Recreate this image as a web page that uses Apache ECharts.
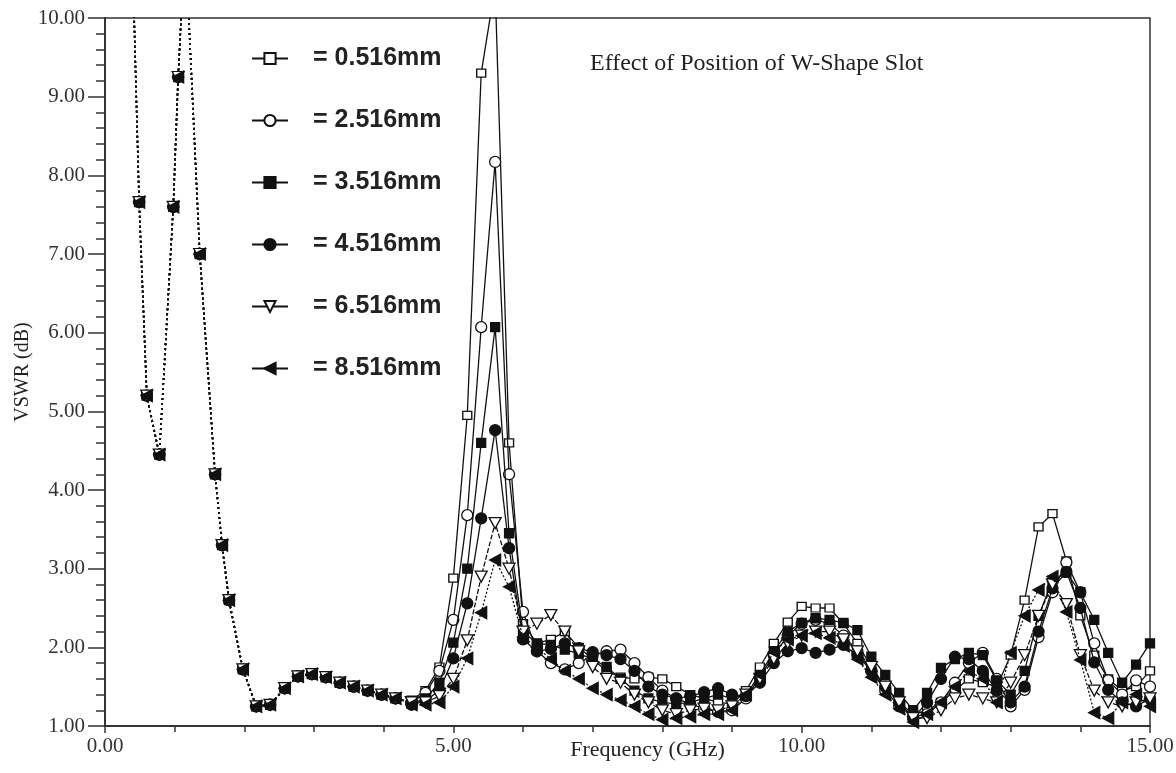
<!DOCTYPE html>
<html><head><meta charset="utf-8">
<script src="https://cdn.jsdelivr.net/npm/echarts@6/dist/echarts.min.js"></script>
<style>html,body{margin:0;padding:0;background:#fff;overflow:hidden}#c{width:1176px;height:773px}</style>
</head><body><div id="c"></div><script>
const chartTitle = 'Effect of Position of W-Shape Slot';
const xAxisName = 'Frequency (GHz)';
const yAxisName = 'VSWR (dB)';
const seriesNames = ['= 0.516mm', '= 2.516mm', '= 3.516mm', '= 4.516mm', '= 6.516mm', '= 8.516mm'];

const lowFreq = [0.40, 0.49, 0.60, 0.78, 0.98, 1.05, 1.15, 1.36, 1.58, 1.68, 1.78, 1.98, 2.17, 2.37, 2.58, 2.77, 2.97, 3.17, 3.37, 3.57, 3.77, 3.97, 4.17, 4.40];
const lowVswr = [10.6, 7.66, 5.20, 4.45, 7.60, 9.25, 11.0, 7.00, 4.20, 3.30, 2.60, 1.72, 1.25, 1.27, 1.48, 1.63, 1.66, 1.62, 1.55, 1.50, 1.45, 1.40, 1.35, 1.30];

const highFreq = [4.4, 4.6, 4.8, 5.0, 5.2, 5.4, 5.6, 5.8, 6.0, 6.2, 6.4, 6.6, 6.8, 7.0, 7.2, 7.4, 7.6, 7.8, 8.0, 8.2, 8.4, 8.6, 8.8, 9.0, 9.2, 9.4, 9.6, 9.8, 10.0, 10.2, 10.4, 10.6, 10.8, 11.0, 11.2, 11.4, 11.6, 11.8, 12.0, 12.2, 12.4, 12.6, 12.8, 13.0, 13.2, 13.4, 13.6, 13.8, 14.0, 14.2, 14.4, 14.6, 14.8, 15.0];
const vswr0516 = [1.33, 1.45, 1.75, 2.88, 4.95, 9.30, 10.4, 4.60, 2.30, 2.05, 2.10, 2.20, 2.00, 1.85, 1.70, 1.62, 1.60, 1.62, 1.60, 1.50, 1.40, 1.35, 1.30, 1.28, 1.45, 1.75, 2.05, 2.32, 2.52, 2.50, 2.50, 2.30, 2.05, 1.75, 1.50, 1.30, 1.15, 1.20, 1.30, 1.45, 1.60, 1.55, 1.50, 1.90, 2.60, 3.53, 3.70, 3.10, 2.40, 1.90, 1.60, 1.45, 1.50, 1.70];
const vswr2516 = [1.30, 1.42, 1.70, 2.35, 3.68, 6.07, 8.17, 4.20, 2.45, 1.95, 1.80, 1.72, 1.80, 1.90, 1.95, 1.97, 1.80, 1.62, 1.45, 1.35, 1.28, 1.22, 1.18, 1.20, 1.35, 1.62, 1.90, 2.15, 2.30, 2.35, 2.30, 2.15, 1.95, 1.70, 1.45, 1.25, 1.12, 1.15, 1.30, 1.55, 1.80, 1.93, 1.60, 1.25, 1.46, 2.13, 2.70, 3.08, 2.70, 2.05, 1.58, 1.40, 1.58, 1.50];
const vswr3516 = [1.28, 1.35, 1.55, 2.06, 3.00, 4.60, 6.07, 3.45, 2.20, 2.05, 2.03, 1.97, 1.92, 1.85, 1.75, 1.60, 1.45, 1.35, 1.30, 1.28, 1.30, 1.35, 1.40, 1.35, 1.40, 1.65, 1.95, 2.20, 2.31, 2.37, 2.35, 2.31, 2.22, 1.88, 1.65, 1.42, 1.20, 1.42, 1.74, 1.85, 1.93, 1.90, 1.58, 1.40, 1.70, 2.40, 2.85, 2.95, 2.70, 2.35, 1.93, 1.55, 1.78, 2.05];
const vswr4516 = [1.27, 1.32, 1.45, 1.86, 2.56, 3.64, 4.76, 3.26, 2.10, 1.95, 1.98, 2.05, 1.99, 1.94, 1.90, 1.85, 1.70, 1.50, 1.40, 1.35, 1.38, 1.43, 1.48, 1.40, 1.38, 1.55, 1.80, 1.95, 1.99, 1.93, 1.97, 2.03, 1.90, 1.70, 1.50, 1.30, 1.10, 1.30, 1.60, 1.88, 1.85, 1.70, 1.45, 1.30, 1.50, 2.20, 2.75, 2.96, 2.50, 1.81, 1.46, 1.30, 1.25, 1.35];
const vswr6516 = [1.30, 1.30, 1.38, 1.60, 2.09, 2.90, 3.58, 3.00, 2.20, 2.30, 2.41, 2.20, 1.95, 1.75, 1.60, 1.55, 1.40, 1.30, 1.20, 1.15, 1.20, 1.22, 1.20, 1.25, 1.40, 1.60, 1.85, 2.05, 2.15, 2.20, 2.20, 2.10, 1.95, 1.75, 1.50, 1.30, 1.10, 1.10, 1.20, 1.35, 1.40, 1.35, 1.30, 1.55, 1.90, 2.40, 2.80, 2.55, 1.90, 1.45, 1.30, 1.25, 1.30, 1.35];
const vswr8516 = [1.27, 1.27, 1.30, 1.50, 1.86, 2.44, 3.11, 2.77, 2.13, 2.00, 1.85, 1.70, 1.60, 1.48, 1.40, 1.33, 1.25, 1.15, 1.08, 1.10, 1.12, 1.15, 1.15, 1.20, 1.40, 1.65, 1.94, 2.10, 2.15, 2.18, 2.12, 2.02, 1.85, 1.62, 1.40, 1.22, 1.05, 1.15, 1.30, 1.50, 1.70, 1.60, 1.30, 1.93, 2.40, 2.73, 2.90, 2.45, 1.84, 1.17, 1.10, 1.30, 1.40, 1.25];
const highSets = [vswr0516, vswr2516, vswr3516, vswr4516, vswr6516, vswr8516];

const xTicks = [0, 5, 10, 15];
const yTicks = [1, 2, 3, 4, 5, 6, 7, 8, 9, 10];

const ink = '#111';
const styles = [
  { symbol: 'rect', size: [9, 8], fill: '#fff', type: 'solid' },
  { symbol: 'circle', size: 11, fill: '#fff', type: 'solid' },
  { symbol: 'rect', size: 9, fill: ink, type: 'solid' },
  { symbol: 'circle', size: 11, fill: ink, type: 'solid' },
  { symbol: 'path://M0,0 L10,0 L5,9 Z', size: [12, 11], fill: '#fff', type: [5, 2] },
  { symbol: 'path://M0,5 L10,0 L10,10 Z', size: [11, 12], fill: ink, type: [2, 2] }
];

const series = [];
highSets.forEach((arr, i) => {
  const st = styles[i];
  series.push({
    name: seriesNames[i], type: 'line',
    data: highFreq.map((f, k) => [f, arr[k]]),
    symbol: st.symbol, symbolSize: st.size, showAllSymbol: true,
    itemStyle: { color: st.fill, borderColor: ink, borderWidth: 1.3 },
    lineStyle: { color: ink, width: 1.3, type: st.type },
    z: 3 + i, animation: false, clip: true
  });
});
highSets.forEach((arr, i) => {
  const st = styles[i];
  series.push({
    name: seriesNames[i], type: 'line',
    data: lowFreq.map((f, k) => [f, lowVswr[k]]),
    symbol: st.symbol, symbolSize: st.size, showAllSymbol: true,
    itemStyle: { color: st.fill, borderColor: ink, borderWidth: 1.3 },
    lineStyle: { color: ink, width: 1.6, type: [2, 3] },
    z: 3, animation: false, clip: true, silent: true
  });
});

const chart = echarts.init(document.getElementById('c'), null, { renderer: 'canvas' });
chart.setOption({
  backgroundColor: '#fff',
  animation: false,
  title: {
    text: chartTitle, left: 585, top: 47,
    textStyle: { fontFamily: 'Liberation Serif', fontSize: 24, fontWeight: 'normal', color: '#222' }
  },
  legend: {
    data: seriesNames, orient: 'vertical', left: 246, top: 41,
    itemWidth: 36, itemHeight: 14, itemGap: 37,
    lineStyle: { type: 'solid', width: 2, color: ink },
    textStyle: { fontFamily: 'Liberation Sans', fontWeight: 'bold', fontSize: 25, color: '#222', lineHeight: 25, padding: [0, 0, 0, 20] },
    selectedMode: false
  },
  grid: { left: 105, right: 26, top: 18, bottom: 47, containLabel: false, outerBoundsMode: 'none', show: true, borderColor: '#333', borderWidth: 1.5 },
  xAxis: {
    type: 'value', min: xTicks[0], max: xTicks[xTicks.length - 1], interval: 5,
    name: xAxisName, nameLocation: 'middle', nameGap: 13, nameMoveOverlap: false,
    nameTextStyle: { fontFamily: 'Liberation Serif', fontSize: 22, color: '#222', padding: [0, 0, 0, 40] },
    axisLine: { show: true, lineStyle: { color: '#333', width: 2 } },
    axisTick: { show: true, length: 7, lineStyle: { color: '#333', width: 1.5 } },
    minorTick: { show: true, splitNumber: 5, length: 6, lineStyle: { color: '#333', width: 1.5 } },
    splitLine: { show: false },
    axisLabel: { margin: 10, fontFamily: 'Liberation Serif', fontSize: 21, color: '#333', formatter: v => v.toFixed(2) }
  },
  yAxis: {
    type: 'value', min: yTicks[0], max: yTicks[yTicks.length - 1], interval: 1,
    name: yAxisName, nameLocation: 'middle', nameGap: 72, nameMoveOverlap: false,
    nameTextStyle: { fontFamily: 'Liberation Serif', fontSize: 20, color: '#222' },
    axisLine: { show: true, lineStyle: { color: '#333', width: 2 } },
    axisTick: { show: true, length: 17, lineStyle: { color: '#333', width: 1.5 } },
    minorTick: { show: true, splitNumber: 5, length: 9, lineStyle: { color: '#333', width: 1.5 } },
    splitLine: { show: false },
    axisLabel: { margin: 20, fontFamily: 'Liberation Serif', fontSize: 21, color: '#333', formatter: v => v.toFixed(2) }
  },
  series: series
});
</script></body></html>
